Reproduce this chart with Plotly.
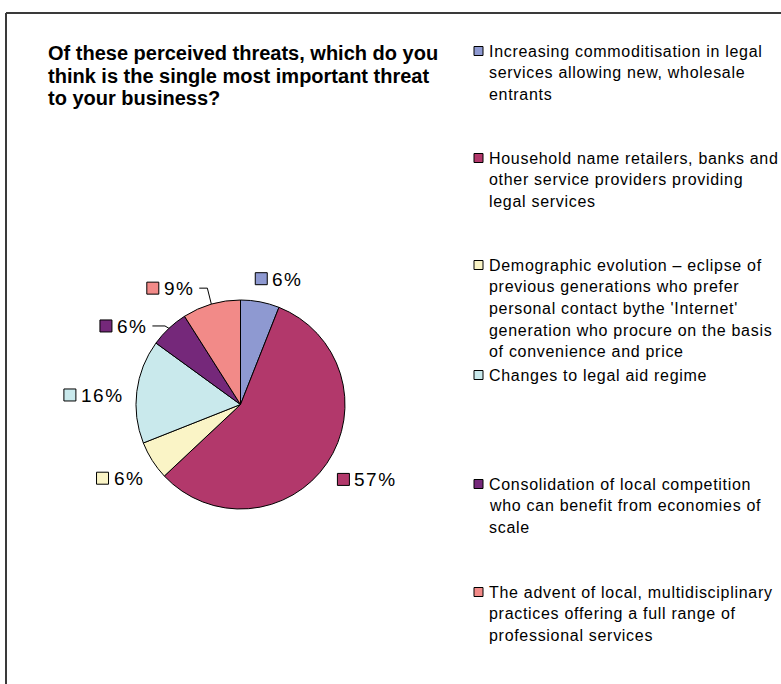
import math
import plotly.graph_objects as go

# Survey results: share of respondents naming each threat (%)
threats = [
    "Increasing commoditisation in legal services allowing new, wholesale entrants",
    "Household name retailers, banks and other service providers providing legal services",
    "Demographic evolution \u2013 eclipse of previous generations who prefer personal contact bythe 'Internet' generation who procure on the basis of convenience and price",
    "Changes to legal aid regime",
    "Consolidation of local competition who can benefit from economies of scale",
    "The advent of local, multidisciplinary practices offering a full range of professional services",
]
shares = [6, 57, 6, 16, 6, 9]

# Legend wording, broken into lines as displayed
legend_lines = [
    ["Increasing commoditisation in legal", "services allowing new, wholesale", "entrants"],
    ["Household name retailers, banks and", "other service providers providing", "legal services"],
    ["Demographic evolution \u2013 eclipse of", "previous generations who prefer",
     "personal contact bythe 'Internet'", "generation who procure on the basis",
     "of convenience and price"],
    ["Changes to legal aid regime"],
    ["Consolidation of local competition", "who can benefit from economies of", "scale"],
    ["The advent of local, multidisciplinary", "practices offering a full range of",
     "professional services"],
]
title_lines = ["Of these perceived threats, which do you",
               "think is the single most important threat",
               "to your business?"]

colors = ["#8E99D1", "#B2386B", "#FAF4C6", "#C9E9EC", "#75287A", "#F28A88"]

W, H = 781, 684
CX, CY, R = 240.5, 404.5, 104.5          # pie centre / radius in pixels
FONT = "Liberation Sans, Arial, sans-serif"
# Arial advance widths (em) used to size the label boxes
GLYPH_EM = {"%": 0.889}


def px(x):
    return x / W


def py(y):
    return 1 - y / H


def spaced(text, ls):
    return '<span style="letter-spacing:%.2fpx">%s</span>' % (ls, text)


fig = go.Figure(go.Pie(
    labels=threats,
    values=shares,
    sort=False,
    direction="clockwise",
    rotation=0,
    marker=dict(colors=colors, line=dict(color="#000000", width=1)),
    textinfo="none",
    hoverinfo="label+percent",
    showlegend=False,
    domain=dict(x=[px(CX - R), px(CX + R)], y=[py(CY + R), py(CY - R)]),
))

shapes = []
annotations = []

# Frame around the chart area (top and left edges)
shapes.append(dict(type="line", xref="paper", yref="paper",
                   x0=px(6), x1=1.0, y0=py(13), y1=py(13),
                   line=dict(color="#3a3a3a", width=2)))
shapes.append(dict(type="line", xref="paper", yref="paper",
                   x0=px(6), x1=px(6), y0=py(13), y1=0.0,
                   line=dict(color="#3a3a3a", width=2)))

# Title
for i, t in enumerate(title_lines):
    annotations.append(dict(text="<b>%s</b>" % t, xref="paper", yref="paper",
                            x=px(46), y=py(53 + 22.5 * i), xanchor="left", yanchor="middle",
                            showarrow=False, font=dict(family=FONT, size=20, color="#000")))

# Data labels around the pie (square swatch + percentage)
label_shift = [6, -3.5, 1, -3.5, -13, -15]    # degrees, to keep labels clear
leader = [False, False, False, False, True, True]
LBL_SIZE = 19
LBL_LS = 1.5
SQ = 12
gap = 13.5
total = sum(shares)
cum = 0
for v, c, sh, ld in zip(shares, colors, label_shift, leader):
    mid = (cum + v / 2) / total * 360
    cum += v
    txt = "%d%%" % v
    tw = sum(GLYPH_EM.get(ch, 0.556) * LBL_SIZE + LBL_LS for ch in txt)
    bw = SQ + 4 + tw
    bh = 14
    ang = math.radians(mid + sh)
    s, co = math.sin(ang), math.cos(ang)
    d = R + gap + abs(s) * bw / 2 + abs(co) * bh / 2
    bx, by = CX + d * s, CY - d * co
    left = bx - bw / 2
    shapes.append(dict(type="rect", xref="paper", yref="paper",
                       x0=px(left), x1=px(left + SQ), y0=py(by - SQ / 2), y1=py(by + SQ / 2),
                       fillcolor=c, line=dict(color="#000", width=1)))
    annotations.append(dict(text=spaced(txt, LBL_LS), xref="paper", yref="paper",
                            x=px(left + SQ + 3), y=py(by + 0.5), xanchor="left", yanchor="middle",
                            showarrow=False, font=dict(family=FONT, size=LBL_SIZE, color="#000")))
    if ld:
        m = math.radians(mid)
        ex, ey = CX + R * math.sin(m), CY - R * math.cos(m)
        elx = ex - 4
        shapes.append(dict(type="path", xref="paper", yref="paper",
                           path="M %f %f L %f %f L %f %f" % (
                               px(left + bw + 6), py(by), px(elx), py(by), px(ex), py(ey)),
                           line=dict(color="#000", width=1)))

# Legend on the right
LEG_SIZE = 16
LEG_LS = 0.7
LINE = 21.7
entry_top = [51, 158, 265, 375, 484, 592]
for lines, c, y0 in zip(legend_lines, colors, entry_top):
    shapes.append(dict(type="rect", xref="paper", yref="paper",
                       x0=px(474), x1=px(483), y0=py(y0 - 4.5), y1=py(y0 + 4.5),
                       fillcolor=c, line=dict(color="#000", width=1)))
    for k, ln in enumerate(lines):
        annotations.append(dict(text=spaced(ln, LEG_LS), xref="paper", yref="paper",
                                x=px(487), y=py(y0 + k * LINE), xanchor="left", yanchor="middle",
                                showarrow=False,
                                font=dict(family=FONT, size=LEG_SIZE, color="#000")))

fig.update_layout(
    width=W, height=H,
    margin=dict(l=0, r=0, t=0, b=0),
    paper_bgcolor="#ffffff",
    plot_bgcolor="#ffffff",
    shapes=shapes,
    annotations=annotations,
)

fig.write_html("out.html")
